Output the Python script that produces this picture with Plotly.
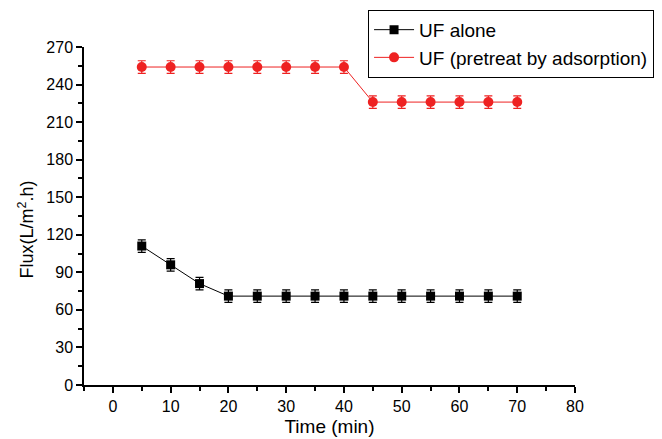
import plotly.graph_objects as go

time = [5, 10, 15, 20, 25, 30, 35, 40, 45, 50, 55, 60, 65, 70]
uf_alone = [111, 96, 81, 71, 71, 71, 71, 71, 71, 71, 71, 71, 71, 71]
uf_alone_err = [5] * 14
uf_pre = [254, 254, 254, 254, 254, 254, 254, 254, 226, 226, 226, 226, 226, 226]
uf_pre_err = [5] * 14

fig = go.Figure()
fig.add_trace(go.Scatter(
    x=time, y=uf_alone, name="UF alone", mode="lines+markers",
    line=dict(color="black", width=1),
    marker=dict(symbol="square", size=9, color="black"),
    error_y=dict(type="data", array=uf_alone_err, color="black", thickness=1.2, width=4),
))
fig.add_trace(go.Scatter(
    x=time, y=uf_pre, name="UF (pretreat by adsorption)", mode="lines+markers",
    line=dict(color="#ee2222", width=1),
    marker=dict(symbol="circle", size=10, color="#ee2222"),
    error_y=dict(type="data", array=uf_pre_err, color="#ee2222", thickness=1.2, width=4),
))

font = "Liberation Sans, Arial, sans-serif"
fig.update_layout(
    width=662, height=439,
    margin=dict(l=84, r=87, t=47, b=54, autoexpand=False),
    paper_bgcolor="white", plot_bgcolor="white",
    font=dict(family=font, size=16, color="black"),
    showlegend=True,
    legend=dict(x=1.161, xanchor="right", y=1.11, yanchor="top",
                bordercolor="black", borderwidth=1, bgcolor="white",
                font=dict(family=font, size=19, color="black"), tracegroupgap=0,
                itemwidth=40),
    xaxis=dict(range=[-5, 80], tickvals=[0, 10, 20, 30, 40, 50, 60, 70, 80],
               ticks="outside", ticklen=6, tickwidth=1.5, tickcolor="black",
               minor=dict(tickvals=[-5, 5, 15, 25, 35, 45, 55, 65, 75], ticks="outside", ticklen=4, tickcolor="black", tickwidth=1.5),
               showline=True, linecolor="black", linewidth=1.5, showgrid=False, zeroline=False,
               title=dict(text="Time (min)", font=dict(family=font, size=19), standoff=6),
               tickfont=dict(family=font, size=16)),
    yaxis=dict(range=[0, 270], tickvals=list(range(0, 271, 30)),
               ticks="outside", ticklen=6, tickwidth=1.5, tickcolor="black",
               minor=dict(tickvals=list(range(15, 270, 30)), ticks="outside", ticklen=4, tickcolor="black", tickwidth=1.5),
               showline=True, linecolor="black", linewidth=1.5, showgrid=False, zeroline=False,
               tickfont=dict(family=font, size=16)),
    annotations=[dict(text="Flux(L/m<sup>2</sup>.h)", textangle=-90, xref="paper", yref="paper",
                      x=-0.118, y=0.46, xanchor="center", yanchor="middle", showarrow=False,
                      font=dict(family=font, size=18, color="black"))],
)

fig.write_html("out.html")
